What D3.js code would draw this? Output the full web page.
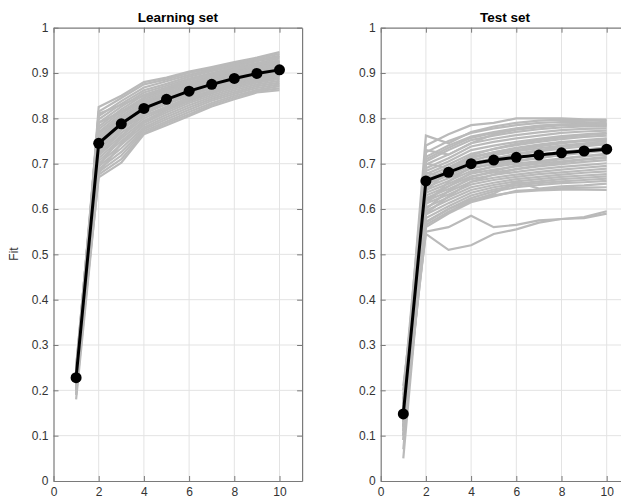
<!DOCTYPE html>
<html>
<head>
<meta charset="utf-8" />
<script src="https://cdn.jsdelivr.net/npm/d3@7"></script>
<style>
  body { margin: 0; background: #fff; }
  svg text { font-family: "Liberation Sans", Arial, Helvetica, sans-serif; }
  .grid line { stroke: #e3e3e3; stroke-width: 1; }
  .axis path, .axis line { stroke: #7a7a7a; }
  .axis text { fill: #333; font-size: 12px; }
</style>
</head>
<body>
<svg id="chart" width="621" height="500"></svg>
<script>
  // x positions (number of components)
  var steps = [1, 2, 3, 4, 5, 6, 7, 8, 9, 10];
  var xTicks = [0, 2, 4, 6, 8, 10];
  var yTicks = [0, 0.1, 0.2, 0.3, 0.4, 0.5, 0.6, 0.7, 0.8, 0.9, 1];

  var learnMean = [0.228, 0.745, 0.788, 0.822, 0.842, 0.860, 0.875, 0.888, 0.899, 0.907];
  var testMean  = [0.148, 0.662, 0.681, 0.700, 0.708, 0.714, 0.719, 0.724, 0.728, 0.732];

  // individual runs (gray)
  var learnRuns = [
    [0.19,0.825,0.850,0.880,0.890,0.903,0.913,0.924,0.934,0.946],
    [0.21,0.815,0.845,0.875,0.886,0.900,0.910,0.921,0.932,0.942],
    [0.24,0.805,0.838,0.868,0.882,0.896,0.907,0.918,0.929,0.938],
    [0.22,0.798,0.832,0.862,0.876,0.892,0.904,0.915,0.926,0.935],
    [0.25,0.790,0.826,0.857,0.872,0.888,0.900,0.912,0.922,0.932],
    [0.23,0.782,0.820,0.852,0.868,0.884,0.897,0.909,0.919,0.928],
    [0.20,0.776,0.815,0.846,0.864,0.880,0.893,0.905,0.916,0.925],
    [0.24,0.770,0.810,0.842,0.860,0.876,0.890,0.902,0.913,0.922],
    [0.22,0.765,0.805,0.838,0.856,0.873,0.887,0.899,0.910,0.919],
    [0.23,0.760,0.800,0.834,0.852,0.870,0.884,0.896,0.907,0.916],
    [0.21,0.755,0.796,0.830,0.849,0.867,0.881,0.893,0.904,0.913],
    [0.25,0.750,0.792,0.826,0.846,0.864,0.878,0.891,0.902,0.910],
    [0.22,0.742,0.786,0.820,0.840,0.858,0.873,0.886,0.897,0.905],
    [0.24,0.736,0.780,0.815,0.836,0.854,0.869,0.883,0.894,0.902],
    [0.23,0.730,0.774,0.810,0.831,0.850,0.866,0.880,0.891,0.899],
    [0.20,0.724,0.768,0.805,0.826,0.846,0.862,0.876,0.888,0.896],
    [0.22,0.718,0.762,0.800,0.822,0.842,0.858,0.873,0.885,0.893],
    [0.24,0.712,0.756,0.795,0.818,0.838,0.855,0.870,0.882,0.890],
    [0.23,0.706,0.750,0.790,0.813,0.834,0.851,0.866,0.879,0.887],
    [0.21,0.700,0.742,0.785,0.808,0.829,0.847,0.862,0.875,0.883],
    [0.22,0.694,0.734,0.780,0.803,0.824,0.843,0.858,0.871,0.879],
    [0.19,0.688,0.726,0.776,0.798,0.819,0.839,0.854,0.867,0.875],
    [0.23,0.682,0.718,0.772,0.793,0.814,0.834,0.850,0.863,0.871],
    [0.18,0.676,0.710,0.768,0.789,0.809,0.830,0.846,0.860,0.866],
    [0.21,0.670,0.702,0.765,0.785,0.805,0.826,0.842,0.857,0.862],
    [0.24,0.810,0.830,0.850,0.866,0.885,0.896,0.908,0.917,0.926],
    [0.22,0.728,0.790,0.828,0.850,0.868,0.885,0.898,0.912,0.924],
    [0.23,0.768,0.800,0.825,0.840,0.856,0.868,0.880,0.890,0.898],
    [0.20,0.695,0.760,0.810,0.835,0.855,0.872,0.888,0.902,0.914],
    [0.25,0.790,0.815,0.838,0.855,0.870,0.882,0.894,0.905,0.912],
    [0.22,0.680,0.745,0.792,0.818,0.840,0.860,0.878,0.893,0.906],
    [0.24,0.752,0.778,0.806,0.824,0.843,0.858,0.871,0.884,0.894],
    [0.21,0.718,0.776,0.818,0.844,0.862,0.879,0.892,0.906,0.918]
  ];

  var testRuns = [
    [0.12,0.740,0.765,0.785,0.790,0.800,0.800,0.800,0.798,0.797],
    [0.16,0.762,0.745,0.770,0.782,0.790,0.795,0.797,0.796,0.794],
    [0.14,0.725,0.750,0.768,0.778,0.785,0.790,0.792,0.792,0.790],
    [0.18,0.715,0.740,0.760,0.770,0.778,0.784,0.787,0.788,0.787],
    [0.13,0.705,0.730,0.752,0.762,0.770,0.776,0.780,0.782,0.782],
    [0.15,0.698,0.720,0.745,0.755,0.763,0.769,0.774,0.777,0.778],
    [0.11,0.690,0.712,0.738,0.748,0.756,0.762,0.768,0.771,0.773],
    [0.17,0.684,0.705,0.730,0.740,0.748,0.755,0.761,0.765,0.768],
    [0.09,0.677,0.698,0.722,0.732,0.741,0.748,0.754,0.759,0.762],
    [0.14,0.671,0.692,0.715,0.725,0.734,0.741,0.747,0.752,0.756],
    [0.20,0.666,0.686,0.708,0.718,0.727,0.734,0.740,0.745,0.750],
    [0.12,0.660,0.680,0.702,0.712,0.720,0.727,0.733,0.738,0.743],
    [0.16,0.654,0.674,0.696,0.705,0.713,0.720,0.726,0.731,0.736],
    [0.10,0.648,0.668,0.690,0.699,0.707,0.713,0.719,0.724,0.729],
    [0.18,0.642,0.662,0.684,0.693,0.700,0.706,0.712,0.717,0.722],
    [0.13,0.636,0.656,0.678,0.687,0.694,0.700,0.705,0.710,0.715],
    [0.07,0.630,0.650,0.672,0.681,0.688,0.694,0.699,0.704,0.708],
    [0.15,0.624,0.644,0.666,0.675,0.682,0.688,0.693,0.697,0.701],
    [0.21,0.618,0.638,0.660,0.669,0.676,0.682,0.687,0.691,0.695],
    [0.11,0.612,0.632,0.654,0.664,0.671,0.677,0.681,0.685,0.689],
    [0.05,0.604,0.626,0.648,0.658,0.666,0.671,0.676,0.680,0.683],
    [0.14,0.596,0.620,0.642,0.653,0.661,0.666,0.671,0.674,0.677],
    [0.17,0.588,0.613,0.636,0.648,0.656,0.661,0.666,0.669,0.672],
    [0.09,0.580,0.606,0.630,0.643,0.652,0.657,0.661,0.664,0.667],
    [0.12,0.572,0.600,0.624,0.639,0.648,0.653,0.657,0.659,0.662],
    [0.15,0.565,0.594,0.618,0.634,0.660,0.645,0.650,0.652,0.656],
    [0.10,0.560,0.590,0.615,0.628,0.640,0.643,0.646,0.647,0.648],
    [0.13,0.570,0.600,0.620,0.630,0.638,0.641,0.643,0.643,0.642],
    [0.16,0.545,0.510,0.520,0.545,0.555,0.570,0.578,0.580,0.590],
    [0.12,0.550,0.560,0.585,0.560,0.565,0.575,0.578,0.582,0.595],
    [0.14,0.700,0.690,0.712,0.725,0.735,0.742,0.748,0.750,0.752],
    [0.17,0.640,0.685,0.705,0.722,0.730,0.738,0.745,0.750,0.755],
    [0.11,0.680,0.670,0.690,0.700,0.712,0.720,0.725,0.730,0.735],
    [0.13,0.620,0.650,0.680,0.695,0.705,0.712,0.720,0.727,0.733],
    [0.19,0.730,0.720,0.745,0.765,0.775,0.780,0.785,0.785,0.784],
    [0.15,0.710,0.735,0.757,0.768,0.777,0.783,0.786,0.787,0.786],
    [0.10,0.650,0.690,0.718,0.733,0.744,0.752,0.758,0.763,0.766],
    [0.17,0.610,0.660,0.694,0.710,0.722,0.730,0.737,0.742,0.746],
    [0.12,0.590,0.628,0.660,0.676,0.688,0.696,0.703,0.709,0.713],
    [0.14,0.600,0.640,0.670,0.684,0.696,0.703,0.710,0.716,0.720]
  ];

  var svg = d3.select('#chart');
  var plotTop = 27.7, plotBottom = 481, plotW = 248.6;

  function drawPanel(left, title, runs, mean) {
    var x = d3.scaleLinear().domain([0, 11]).range([left, left + plotW]);
    var y = d3.scaleLinear().domain([0, 1]).range([plotBottom, plotTop]);
    var g = svg.append('g');

    // grid
    var grid = g.append('g').attr('class', 'grid');
    grid.selectAll('.gx').data(xTicks.filter(function(d){ return d > 0; })).enter().append('line')
      .attr('x1', function(d){ return x(d); }).attr('x2', function(d){ return x(d); })
      .attr('y1', y(0)).attr('y2', y(1));
    grid.selectAll('.gy').data(yTicks.filter(function(d){ return d > 0 && d < 1; })).enter().append('line')
      .attr('x1', x(0)).attr('x2', x(11))
      .attr('y1', function(d){ return y(d); }).attr('y2', function(d){ return y(d); });

    var line = d3.line()
      .x(function(d, i){ return x(steps[i]); })
      .y(function(d){ return y(d); });

    g.selectAll('.run').data(runs).enter().append('path')
      .attr('d', line)
      .attr('fill', 'none')
      .attr('stroke', '#bababa')
      .attr('stroke-width', 2.2);

    g.append('path').datum(mean).attr('d', line)
      .attr('fill', 'none').attr('stroke', '#000').attr('stroke-width', 3);

    g.selectAll('.pt').data(mean).enter().append('circle')
      .attr('cx', function(d, i){ return x(steps[i]); })
      .attr('cy', function(d){ return y(d); })
      .attr('r', 5.5).attr('fill', '#000');

    // axes (box with inward ticks)
    g.append('g').attr('class', 'axis').attr('transform', 'translate(0,' + plotBottom + ')')
      .call(d3.axisBottom(x).tickValues(xTicks).tickSizeInner(-5).tickSizeOuter(0).tickPadding(6));
    g.append('g').attr('class', 'axis').attr('transform', 'translate(' + left + ',0)')
      .call(d3.axisLeft(y).tickValues(yTicks).tickFormat(d3.format('~g')).tickSizeInner(-5).tickSizeOuter(0).tickPadding(5));
    g.append('g').attr('class', 'axis').attr('transform', 'translate(0,' + plotTop + ')')
      .call(d3.axisTop(x).tickValues(xTicks).tickSizeInner(-5).tickSizeOuter(0).tickFormat(''));
    g.append('g').attr('class', 'axis').attr('transform', 'translate(' + (left + plotW) + ',0)')
      .call(d3.axisRight(y).tickValues(yTicks).tickSizeInner(-5).tickSizeOuter(0).tickFormat(''));
    g.selectAll('.axis .domain').attr('stroke-width', 1.2);

    g.append('text').attr('x', left + plotW / 2).attr('y', 22)
      .attr('text-anchor', 'middle').style('font-size', '13.5px').style('font-weight', 'bold')
      .attr('fill', '#000').text(title);
  }

  drawPanel(53.5, 'Learning set', learnRuns, learnMean);
  drawPanel(380.7, 'Test set', testRuns, testMean);

  svg.append('text').attr('transform', 'translate(18,254) rotate(-90)')
    .attr('text-anchor', 'middle').style('font-size', '12px').attr('fill', '#333').text('Fit');
</script>
</body>
</html>
